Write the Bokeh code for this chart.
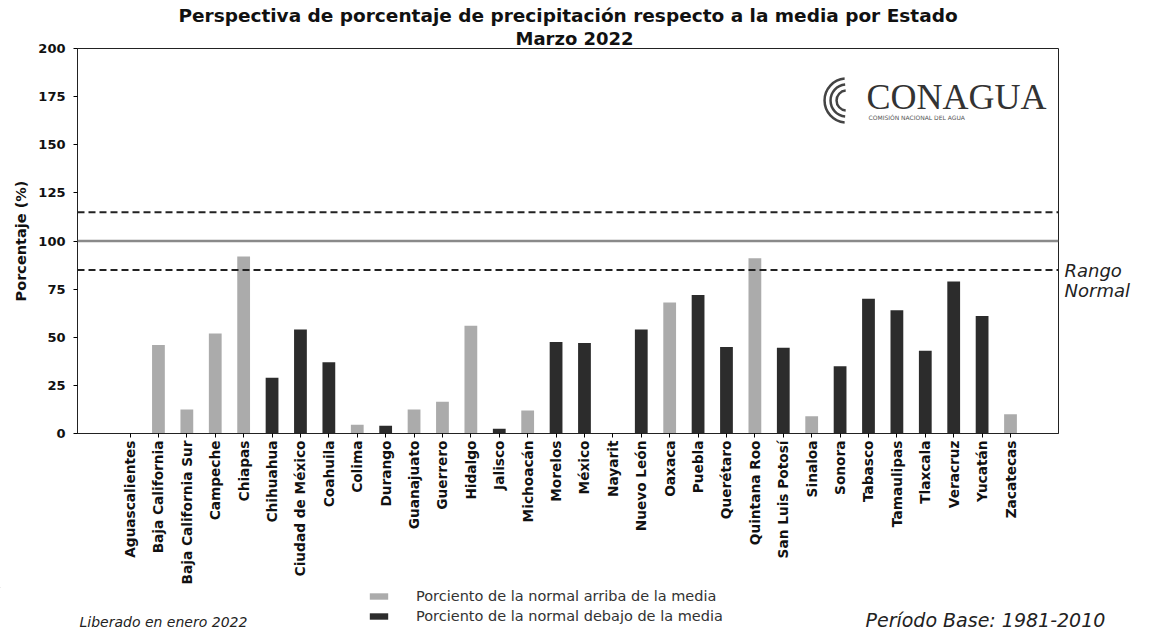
import math
from bokeh.plotting import figure
from bokeh.layouts import column
from bokeh.models import (Range1d, FixedTicker, Span, Label, Legend, LegendItem,
                          ColumnDataSource, Title, LinearAxis)
from bokeh.embed import file_html
from bokeh.resources import INLINE

states = ["Aguascalientes", "Baja California", "Baja California Sur", "Campeche", "Chiapas",
          "Chihuahua", "Ciudad de México", "Coahuila", "Colima", "Durango", "Guanajuato",
          "Guerrero", "Hidalgo", "Jalisco", "Michoacán", "Morelos", "México", "Nayarit",
          "Nuevo León", "Oaxaca", "Puebla", "Querétaro", "Quintana Roo", "San Luis Potosí",
          "Sinaloa", "Sonora", "Tabasco", "Tamaulipas", "Tlaxcala", "Veracruz", "Yucatán",
          "Zacatecas"]
values = [0, 46, 12.5, 52, 92, 29, 54, 37, 4.5, 4, 12.5, 16.5, 56, 2.5, 12, 47.5, 47, 0,
          54, 68, 72, 45, 91, 44.5, 9, 35, 70, 64, 43, 79, 61, 10]
# 'a' = arriba de la media (light), 'b' = debajo de la media (dark)
kind = ["b", "a", "a", "a", "a", "b", "b", "b", "a", "b", "a", "a", "a", "b", "a", "b", "b",
        "b", "b", "a", "b", "b", "a", "b", "a", "b", "b", "b", "b", "b", "b", "a"]
y_ticks = [0, 25, 50, 75, 100, 125, 150, 175, 200]
media = 100
rango_sup = 115
rango_inf = 85
legend_labels = ["Porciento de la normal arriba de la media",
                 "Porciento de la normal debajo de la media"]

LIGHT = "#ababab"
DARK = "#2c2c2c"
INK = "#111111"

idx = list(range(len(states)))
src_a = ColumnDataSource(dict(x=[i for i in idx if kind[i] == "a"],
                              top=[values[i] for i in idx if kind[i] == "a"]))
src_b = ColumnDataSource(dict(x=[i for i in idx if kind[i] == "b"],
                              top=[values[i] for i in idx if kind[i] == "b"]))

p = figure(frame_width=981, frame_height=385, output_backend="svg", toolbar_location=None,
           x_range=Range1d(-1.85, 32.69), y_range=Range1d(0, 200),
           min_border_left=77, min_border_right=91, min_border_top=48, min_border_bottom=150)
p.frame_align = False
p.xgrid.visible = False
p.ygrid.visible = False
p.outline_line_color = "#222222"
p.outline_line_width = 1
p.background_fill_color = "white"
p.border_fill_color = "white"

# titles (two lines): p.title is the outer line, the added Title sits next to the frame
p.title.text = "Perspectiva de porcentaje de precipitación respecto a la media por Estado"
p.title.align = "center"
p.title.standoff = 0
p.title.text_font = "DejaVu Sans"
p.title.text_font_style = "bold"
p.title.text_font_size = "18.5px"
p.title.text_color = INK
p.add_layout(Title(text="Marzo 2022", align="left", offset=438, standoff=0,
                   text_font="DejaVu Sans", text_font_style="bold", text_font_size="18px",
                   text_color=INK), "above")

ra = p.vbar(x="x", top="top", width=0.45, source=src_a, fill_color=LIGHT, line_color=None)
rb = p.vbar(x="x", top="top", width=0.45, source=src_b, fill_color=DARK, line_color=None)

p.add_layout(Span(location=media, dimension="width", line_color="#8a8a8a", line_width=2.5))
p.add_layout(Span(location=rango_sup, dimension="width", line_color="#222222", line_width=2, line_dash="7 4"))
p.add_layout(Span(location=rango_inf, dimension="width", line_color="#222222", line_width=2, line_dash="7 4"))

# axes
p.xaxis.ticker = FixedTicker(ticks=idx)
p.xaxis.major_label_overrides = {i: s for i, s in enumerate(states)}
p.xaxis.major_label_orientation = math.pi / 2
p.xaxis.major_label_text_font = "DejaVu Sans"
p.xaxis.major_label_text_font_style = "bold"
p.xaxis.major_label_text_font_size = "13.7px"
p.xaxis.major_label_text_color = INK
p.xaxis.major_label_standoff = 3
p.xaxis.major_tick_out = 4
p.xaxis.major_tick_in = 0
p.xaxis.minor_tick_line_color = None
p.xaxis.axis_line_color = "#222222"

p.yaxis.ticker = FixedTicker(ticks=y_ticks)
p.yaxis.major_label_text_font = "DejaVu Sans"
p.yaxis.major_label_text_font_style = "bold"
p.yaxis.major_label_text_font_size = "13px"
p.yaxis.major_label_text_color = INK
p.yaxis.major_label_standoff = 8
p.yaxis.major_tick_out = 4
p.yaxis.major_tick_in = 0
p.yaxis.minor_tick_line_color = None
p.yaxis.axis_line_color = "#222222"
p.yaxis.axis_label = "Porcentaje (%)"
p.yaxis.axis_label_text_font = "DejaVu Sans"
p.yaxis.axis_label_text_font_style = "bold"
p.yaxis.axis_label_text_font_size = "14.5px"
p.yaxis.axis_label_text_color = INK
p.yaxis.axis_label_standoff = 6

# "Rango Normal" as right-side axis labels
rango_pos = [84.7, 74.3]
rango_txt = ["Rango", "Normal"]
rax = LinearAxis(ticker=FixedTicker(ticks=rango_pos),
                 major_label_overrides={v: t for v, t in zip(rango_pos, rango_txt)},
                 axis_line_color=None, major_tick_line_color=None, minor_tick_line_color=None,
                 major_tick_out=0, major_tick_in=0,
                 major_label_standoff=6, major_label_text_font="DejaVu Sans",
                 major_label_text_font_style="italic", major_label_text_font_size="18px",
                 major_label_text_color="#222222")
p.add_layout(rax, "right")

def px2x(px):
    return -1.85 + (px - 77) / 28.4

def py2y(py):
    return (433 - py) / 1.925

# CONAGUA logo
p.add_layout(Label(x=px2x(866), y=py2y(96), text="CONAGUA", text_align="left", text_baseline="middle",
                   text_font="Liberation Serif", text_font_size="36px", text_color="#333333"))
p.add_layout(Label(x=px2x(868), y=py2y(117), text="COMISIÓN NACIONAL DEL AGUA", text_align="left",
                   text_baseline="middle", text_font="DejaVu Sans", text_font_size="6px",
                   text_color="#555555"))
logo_r = [10, 16, 22]
p.arc(x=[px2x(846)] * 3, y=[py2y(100)] * 3, radius=logo_r, radius_units="screen",
      start_angle=math.radians(95), end_angle=math.radians(265), line_color="#444444", line_width=2.5)

# footer strip: legend and notes (page pixel coordinates, top of strip at y=587)
FT = 587
FH = 44
f = figure(frame_width=1149, frame_height=FH, output_backend="svg", toolbar_location=None,
           x_range=Range1d(0, 1149), y_range=Range1d(FT + FH, FT),
           min_border_left=0, min_border_right=0, min_border_top=0, min_border_bottom=0,
           x_axis_location=None, y_axis_location=None)
f.frame_align = False
f.title.visible = False
f.xgrid.visible = False
f.ygrid.visible = False
f.outline_line_color = None
f.border_fill_color = "white"
f.background_fill_color = "white"
# legend keys (single off-screen sample so the key swatches get drawn)
la = f.vbar(x=[-100], top=[FT], width=1, fill_color=LIGHT, line_color=None)
lb = f.vbar(x=[-100], top=[FT], width=1, fill_color=DARK, line_color=None)
leg = Legend(items=[LegendItem(label=legend_labels[0], renderers=[la]),
                    LegendItem(label=legend_labels[1], renderers=[lb])],
             orientation="vertical", location=(367, FT + FH - 625), margin=0, padding=0, spacing=2,
             glyph_width=23, glyph_height=8, label_height=18, label_standoff=26,
             label_text_font="DejaVu Sans", label_text_font_size="14.5px",
             label_text_color="#333333", border_line_color=None, background_fill_alpha=0)
f.add_layout(leg, "center")
f.add_layout(Label(x=79, y=621, text="Liberado en enero 2022", text_align="left",
                   text_baseline="middle", text_font="DejaVu Sans", text_font_style="italic",
                   text_font_size="14px", text_color="#222222"))
f.add_layout(Label(x=865, y=619, text="Período Base: 1981-2010", text_align="left",
                   text_baseline="middle", text_font="DejaVu Sans", text_font_style="italic",
                   text_font_size="19px", text_color="#222222"))

layout = column(p, f, spacing=0)
open("out.html", "w").write(file_html(layout, INLINE))
